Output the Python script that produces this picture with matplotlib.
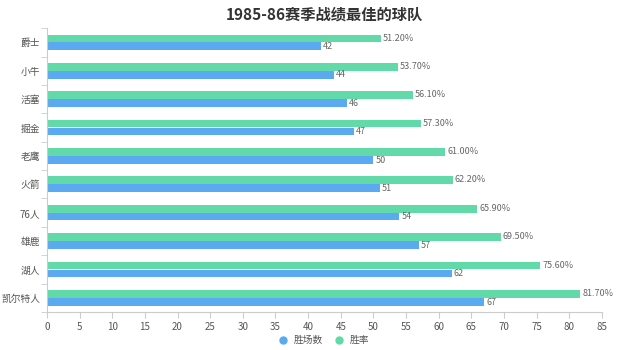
import numpy as np
import matplotlib.pyplot as plt

plt.rcParams['font.family'] = ['Noto Sans CJK SC', 'DejaVu Sans']

# bottom to top, as drawn
teams = ['凯尔特人', '湖人', '雄鹿', '76人', '火箭', '老鹰', '掘金', '活塞', '小牛', '爵士']
wins = [67, 62, 57, 54, 51, 50, 47, 46, 44, 42]
win_rate = [81.7, 75.6, 69.5, 65.9, 62.2, 61.0, 57.3, 56.1, 53.7, 51.2]

blue = '#5ba9f0'
green = '#62d9a9'

fig = plt.figure(figsize=(6.4, 3.5), dpi=100)
ax = fig.add_axes([0.0734, 0.1086, 0.867, 0.811])

y = np.arange(len(teams))
h = 0.27
ax.barh(y - 0.14, wins, height=h, color=blue, label='胜场数')
ax.barh(y + 0.14, win_rate, height=h, color=green, label='胜率')

for yi, w, r in zip(y, wins, win_rate):
    ax.text(w + 0.3, yi - 0.15, str(w), va='center', ha='left', fontsize=6.5, color='#666666')
    ax.text(r + 0.3, yi + 0.15, '%.2f%%' % r, va='center', ha='left', fontsize=6.5, color='#666666')

ax.set_xlim(0, 85)
ax.set_ylim(-0.5, len(teams) - 0.5)
ax.set_xticks(range(0, 86, 5))
ax.set_yticks(y)
ax.set_yticklabels(teams)
ax.set_yticks(np.arange(-0.5, len(teams), 1), minor=True)
ax.tick_params(axis='y', which='major', length=0, labelsize=7, labelcolor='#555555', pad=5)
ax.tick_params(axis='y', which='minor', length=4, color='#cccccc')
ax.tick_params(axis='x', length=4, color='#cccccc', labelsize=7, labelcolor='#555555', pad=3)

for s in ['top', 'right']:
    ax.spines[s].set_visible(False)
ax.spines['left'].set_color('#cccccc')
ax.spines['bottom'].set_color('#cccccc')

ax.set_title('1985-86赛季战绩最佳的球队', fontsize=11, fontweight='bold', color='#333333', pad=6)

handles, labels = ax.get_legend_handles_labels()
fig.legend(
    [plt.Line2D([], [], marker='o', ls='', color=blue, markersize=5),
     plt.Line2D([], [], marker='o', ls='', color=green, markersize=5)],
    labels, loc='center', bbox_to_anchor=(0.502, 0.028), ncol=2, frameon=False,
    fontsize=7, labelcolor='#555555', handletextpad=0.1, columnspacing=0.6)

fig.savefig('out.png', dpi=100)
